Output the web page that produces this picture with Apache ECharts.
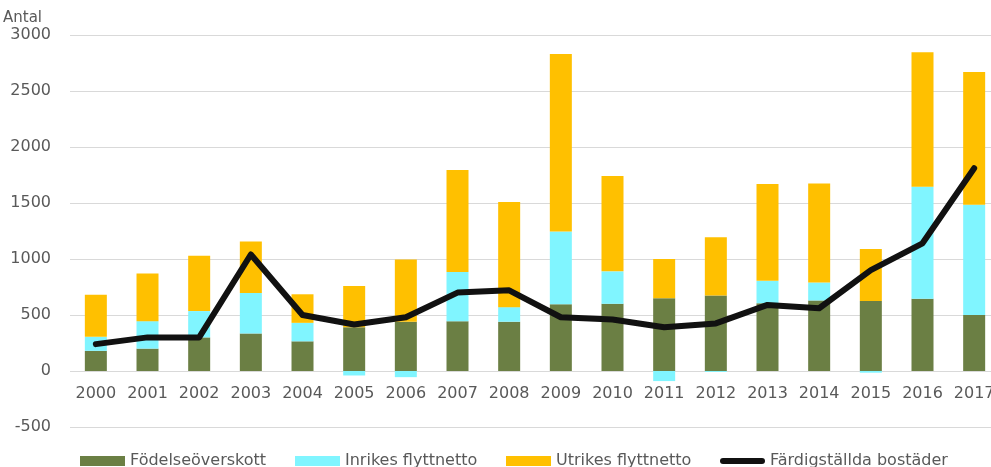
<!DOCTYPE html>
<html>
<head>
<meta charset="utf-8">
<script src="https://cdn.jsdelivr.net/npm/echarts@6/dist/echarts.min.js"></script>
<style>
  html, body { margin: 0; padding: 0; background: #fff; overflow: hidden; }
  #chart { width: 1000px; height: 467px; }
</style>
</head>
<body>
<div id="chart"></div>
<script>
var years = ["2000", "2001", "2002", "2003", "2004", "2005", "2006", "2007", "2008",
  "2009", "2010", "2011", "2012", "2013", "2014", "2015", "2016", "2017"];
// Födelseöverskott
var fodelse = [180, 200, 300, 335, 265, 390, 440, 445, 440, 595, 600, 650, 675, 605, 630, 625, 645, 500];
// Inrikes flyttnetto
var inrikes = [125, 245, 235, 362, 165, -40, -55, 440, 130, 650, 290, -90, -8, 200, 160, -15, 1000, 985];
// Utrikes flyttnetto
var utrikes = [375, 425, 493, 460, 255, 370, 555, 910, 940, 1585, 850, 350, 520, 865, 885, 465, 1200, 1185];
// Färdigställda bostäder
var bostader = [240, 300, 300, 1040, 500, 415, 480, 700, 720, 480, 460, 390, 425, 590, 560, 900, 1140, 1810];

var yTicks = [-500, 0, 500, 1000, 1500, 2000, 2500, 3000];

var textColor = "#595959";
var font = "DejaVu Sans";
var lineIcon = "path://M3,0 L42,0 A3,3 0 0 1 42,6 L3,6 A3,3 0 0 1 3,0 Z";

// one legend per item so each sits where the original puts it
function legendItem(name, icon, left) {
  return {
    left: left,
    top: 453,
    padding: 0,
    itemWidth: 45,
    itemHeight: 10,
    textStyle: { color: textColor, fontSize: 16, fontFamily: font },
    data: [{ name: name, icon: icon }]
  };
}

var chart = echarts.init(document.getElementById("chart"));

chart.setOption({
  animation: false,
  textStyle: { fontFamily: font },
  grid: {
    left: 70,
    right: 0,
    top: 35,
    bottom: 40
  },
  legend: [
    legendItem("Födelseöverskott", "rect", 80),
    legendItem("Inrikes flyttnetto", "rect", 295),
    legendItem("Utrikes flyttnetto", "rect", 506),
    legendItem("Färdigställda bostäder", lineIcon, 720)
  ],
  xAxis: {
    type: "category",
    data: years,
    position: "bottom",
    axisLine: { show: false, onZero: false },
    axisTick: { show: false },
    axisLabel: { color: textColor, fontSize: 16, margin: -41, interval: 0 }
  },
  yAxis: {
    type: "value",
    min: yTicks[0],
    max: yTicks[yTicks.length - 1],
    interval: 500,
    name: "Antal",
    nameGap: 9,
    nameTextStyle: { color: textColor, fontSize: 15, align: "right", padding: [0, 28, 0, 0] },
    axisLine: { show: false },
    axisTick: { show: false },
    axisLabel: {
      color: textColor,
      fontSize: 16,
      margin: 19,
      formatter: function (v) { return String(v); }
    },
    splitLine: { lineStyle: { color: "#d9d9d9", width: 1 } }
  },
  series: [
    {
      name: "Födelseöverskott",
      type: "bar",
      stack: "total",
      barWidth: 22,
      itemStyle: { color: "#6b7f44" },
      data: fodelse
    },
    {
      name: "Inrikes flyttnetto",
      type: "bar",
      stack: "total",
      barWidth: 22,
      itemStyle: { color: "#80f5ff" },
      data: inrikes
    },
    {
      name: "Utrikes flyttnetto",
      type: "bar",
      stack: "total",
      barWidth: 22,
      itemStyle: { color: "#ffc000" },
      data: utrikes
    },
    {
      name: "Färdigställda bostäder",
      type: "line",
      symbol: "none",
      z: 5,
      lineStyle: { color: "#111111", width: 6, cap: "round", join: "round" },
      itemStyle: { color: "#111111" },
      data: bostader
    }
  ]
});
</script>
</body>
</html>
